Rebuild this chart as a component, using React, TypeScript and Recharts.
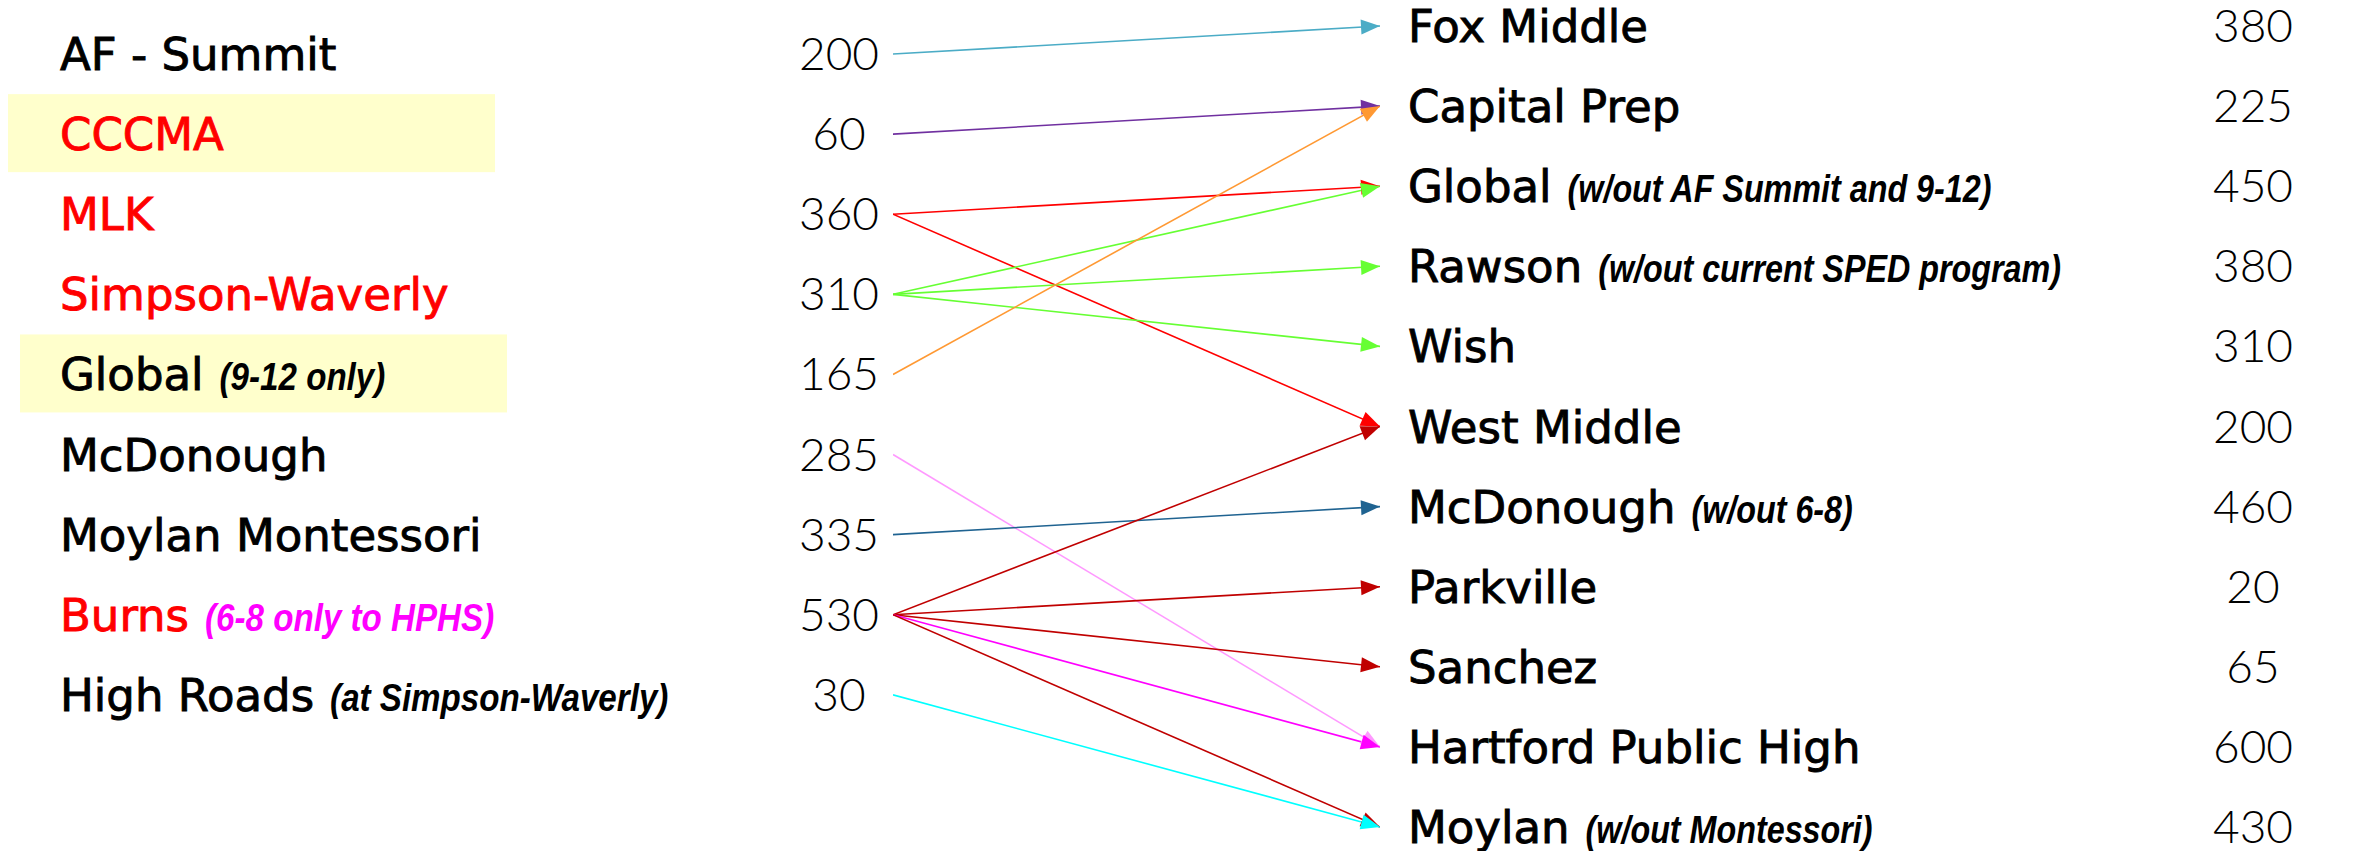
import React from "react";
import { LineChart, Line, XAxis, YAxis } from "recharts";

// sending schools (left column)
const sourceNames = ["AF - Summit", "CCCMA", "MLK", "Simpson-Waverly", "Global", "McDonough", "Moylan Montessori", "Burns", "High Roads"];
const sourceNotes = ["", "", "", "", "(9-12 only)", "", "", "(6-8 only to HPHS)", "(at Simpson-Waverly)"];
const sourceCounts = [200, 60, 360, 310, 165, 285, 335, 530, 30];
const closingSources = ["CCCMA", "MLK", "Simpson-Waverly", "Burns"];
const highlightedSources = ["CCCMA", "Global"];

// receiving schools (right column)
const destNames = ["Fox Middle", "Capital Prep", "Global", "Rawson", "Wish", "West Middle", "McDonough", "Parkville", "Sanchez", "Hartford Public High", "Moylan"];
const destNotes = ["", "", "(w/out AF Summit and 9-12)", "(w/out current SPED program)", "", "", "(w/out 6-8)", "", "", "", "(w/out Montessori)"];
const destCounts = [380, 225, 450, 380, 310, 200, 460, 20, 65, 600, 430];

// moves: source index -> destination index
const flowFrom = [0, 1, 2, 2, 3, 3, 3, 4, 5, 6, 7, 7, 7, 7, 7, 8];
const flowTo = [0, 1, 2, 5, 2, 3, 4, 1, 9, 6, 5, 7, 8, 9, 10, 10];
const flowColors = ["#4BACC6", "#7030A0", "#FF0000", "#FF0000", "#66FF33", "#66FF33", "#66FF33", "#FF9933", "#FF99FF", "#1F6391", "#C00000", "#C00000", "#C00000", "#FF00FF", "#C00000", "#00FFFF"];

const SRC_OFFSET = 0.35;
const srcTicks = sourceNames.map((_, i) => i + SRC_OFFSET);
const dstTicks = destNames.map((_, i) => i);

const NAME_SIZE = 45;
const NAME_FONT = "DejaVu Sans";
const NOTE_FONT = "'Liberation Sans', Arial, sans-serif";
const NUM_FONT = "Lato, 'Liberation Sans', sans-serif";

let ctx: CanvasRenderingContext2D | null = null;
function nameWidth(s: string) {
  if (!ctx && typeof document !== "undefined") ctx = document.createElement("canvas").getContext("2d");
  if (!ctx) return s.length * NAME_SIZE * 0.6;
  ctx.font = `${NAME_SIZE}px '${NAME_FONT}'`;
  return ctx.measureText(s).width;
}

function Label({ x, y, name, note, color, noteColor, noteSize }: any) {
  const nx = x + nameWidth(name) + 16;
  return (
    <g>
      <text x={x} y={y + 16} fontFamily={NAME_FONT} fontSize={NAME_SIZE} fill={color} stroke={color} strokeWidth={0.9}>
        {name}
      </text>
      {note && (
        <text
          transform={`translate(${nx}, ${y + 16}) scale(0.85, 1)`}
          fontFamily={NOTE_FONT}
          fontStyle="italic"
          fontWeight="bold"
          fontSize={noteSize}
          fill={noteColor}
        >
          {note}
        </text>
      )}
    </g>
  );
}

function SourceTick(props: any) {
  const { x, y, payload } = props;
  const i = Math.round(payload.value - SRC_OFFSET);
  const name = sourceNames[i];
  const color = closingSources.includes(name) ? "#FF0000" : "#000000";
  const noteColor = name === "Burns" ? "#FF00FF" : "#000000";
  const boxLeft = name === "CCCMA" ? x - 885 : x - 873;
  return (
    <g>
      {highlightedSources.includes(name) && (
        <rect x={boxLeft} y={y - 40} width={487} height={78} fill="#FFFFCC" />
      )}
      <Label x={x - 833} y={y} name={name} note={sourceNotes[i]} color={color} noteColor={noteColor} noteSize={39} />
      <text x={x - 54} y={y} dy={16} textAnchor="middle" fontFamily={NUM_FONT} fontWeight={300} fontSize={46} fill="#000">
        {sourceCounts[i]}
      </text>
    </g>
  );
}

function DestTick(props: any) {
  const { x, y, payload } = props;
  const i = Math.round(payload.value);
  return (
    <g>
      <Label x={x + 28} y={y} name={destNames[i]} note={destNotes[i]} color="#000000" noteColor="#000000" noteSize={38} />
      <text x={x + 873} y={y} dy={16} textAnchor="middle" fontFamily={NUM_FONT} fontWeight={300} fontSize={46} fill="#000">
        {destCounts[i]}
      </text>
    </g>
  );
}

const arrowHead = (color: string) => (props: any) => {
  const { cx, cy, index, points } = props;
  if (index !== 1 || cx == null || cy == null) return <g key={`a-${index}`} />;
  const p0 = points && points[0];
  const deg = p0 ? (Math.atan2(cy - p0.y, cx - p0.x) * 180) / Math.PI : 0;
  return (
    <path
      key={`a-${index}`}
      d={`M ${cx} ${cy} l -19 -7.5 l 0 15 z`}
      transform={`rotate(${deg} ${cx} ${cy})`}
      fill={color}
      stroke="none"
    />
  );
};

export default function App() {
  return (
    <div style={{ position: "absolute", left: 0, top: 0, width: 2371, height: 851, background: "#fff" }}>
      <LineChart width={2371} height={851} margin={{ top: 0, right: 0, bottom: 0, left: 0 }}>
        <XAxis type="number" dataKey="x" domain={[0, 1]} hide allowDataOverflow />
        <YAxis
          yAxisId="src"
          orientation="left"
          type="number"
          width={893}
          domain={[-0.3246, 10.2996]}
          reversed
          allowDataOverflow
          ticks={srcTicks}
          interval={0}
          axisLine={false}
          tickLine={false}
          tickSize={0}
          tickMargin={0}
          tick={<SourceTick />}
        />
        <YAxis
          yAxisId="dst"
          orientation="right"
          type="number"
          width={991}
          domain={[-0.3246, 10.2996]}
          reversed
          allowDataOverflow
          ticks={dstTicks}
          interval={0}
          axisLine={false}
          tickLine={false}
          tickSize={0}
          tickMargin={0}
          tick={<DestTick />}
        />
        {flowFrom.map((from, k) => (
          <Line
            key={`flow-${k}`}
            yAxisId="src"
            data={[
              { x: 0, y: from + SRC_OFFSET },
              { x: 1, y: flowTo[k] },
            ]}
            dataKey="y"
            type="linear"
            stroke={flowColors[k]}
            strokeWidth={1.6}
            dot={arrowHead(flowColors[k])}
            activeDot={false}
            isAnimationActive={false}
          />
        ))}
      </LineChart>
    </div>
  );
}
